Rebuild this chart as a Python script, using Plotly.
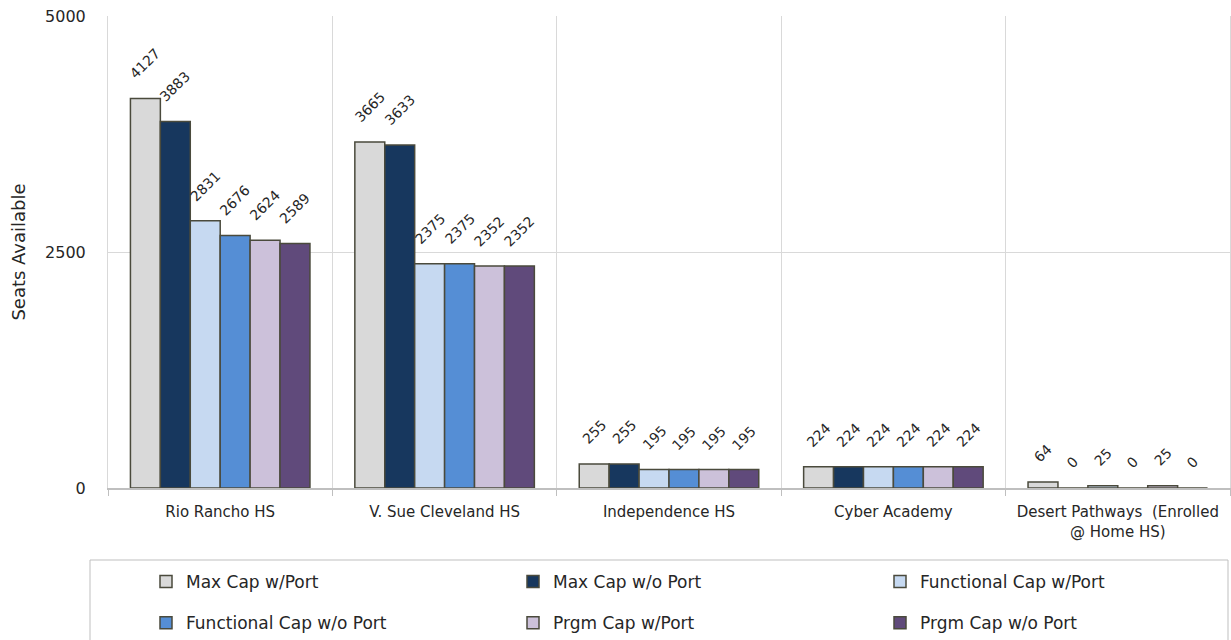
import plotly.graph_objects as go

# Schools (x categories) and seat counts per capacity measure
schools = [
    "Rio Rancho HS",
    "V. Sue Cleveland HS",
    "Independence HS",
    "Cyber Academy",
    "Desert Pathways  (Enrolled<br>@ Home HS)",
]
series_names = [
    "Max Cap w/Port",
    "Max Cap w/o Port",
    "Functional Cap w/Port",
    "Functional Cap w/o Port",
    "Prgm Cap w/Port",
    "Prgm Cap w/o Port",
]
max_cap_port = [4127, 3665, 255, 224, 64]
max_cap_no_port = [3883, 3633, 255, 224, 0]
func_cap_port = [2831, 2375, 195, 224, 25]
func_cap_no_port = [2676, 2375, 195, 224, 0]
prgm_cap_port = [2624, 2352, 195, 224, 25]
prgm_cap_no_port = [2589, 2352, 195, 224, 0]
y_ticks = [0, 2500, 5000]

values = [max_cap_port, max_cap_no_port, func_cap_port,
          func_cap_no_port, prgm_cap_port, prgm_cap_no_port]
colors = ["#d9d9d9", "#17375e", "#c6d9f1", "#558ed5", "#ccc1da", "#604a7b"]

FONT = "DejaVu Sans"
TEXT = "#262626"
W, H = 1231, 640
ML, MR, MT, MB = 108, 1, 16, 152
PW = W - ML - MR
PH = H - MT - MB

BARGAP = 0.2
n_series = len(values)
bar_w = (1 - BARGAP) / n_series

# legend laid out as three columns of two entries
legend_ids = ["legend", "legend2", "legend3"]

fig = go.Figure()
annotations = []
for i, (name, vals, col) in enumerate(zip(series_names, values, colors)):
    fig.add_trace(go.Bar(
        name=name, x=schools, y=vals,
        marker=dict(color=col, line=dict(color="#4a4a3c", width=1.5)),
        legend=legend_ids[i % 3], legendgroup=f"g{i}",
        cliponaxis=False,
    ))
    # rotated value labels above each bar
    for j, v in enumerate(vals):
        annotations.append(dict(
            x=j + (i - (n_series - 1) / 2) * bar_w, y=v,
            xref="x", yref="y", text=str(v), showarrow=False,
            textangle=-45, xanchor="center", yanchor="bottom", yshift=14,
            font=dict(family=FONT, size=14, color=TEXT),
        ))


def px_x(px):
    return (px - ML) / PW


def px_y(py):
    return (H - MB - py) / PH


def column_legend(left_px):
    return dict(
        orientation="v", x=px_x(left_px), xanchor="left",
        y=px_y(564), yanchor="top", tracegroupgap=16,
        font=dict(family=FONT, size=17, color=TEXT), bgcolor="rgba(0,0,0,0)",
        itemclick=False, itemdoubleclick=False,
    )


fig.update_layout(
    width=W, height=H,
    margin=dict(l=ML, r=MR, t=MT, b=MB, pad=0, autoexpand=False),
    paper_bgcolor="white", plot_bgcolor="white",
    barmode="group", bargap=BARGAP, bargroupgap=0,
    font=dict(family=FONT, color=TEXT),
    annotations=annotations,
    xaxis=dict(
        type="category", range=[-0.5, len(schools) - 0.5],
        tickson="boundaries", showgrid=True, gridcolor="#d9d9d9", gridwidth=1,
        showline=True, linecolor="#bfbfbf", linewidth=2,
        ticks="outside", ticklen=6, tickcolor="#bfbfbf", tickwidth=1,
        tickfont=dict(family=FONT, size=15, color=TEXT),
        ticklabelstandoff=9,
    ),
    yaxis=dict(
        range=[0, 5000], tickvals=y_ticks, ticktext=[str(t) for t in y_ticks],
        showgrid=True, gridcolor="#d9d9d9", gridwidth=1, zeroline=False,
        showline=True, linecolor="#d9d9d9", linewidth=1, mirror=True,
        ticks="", tickfont=dict(family=FONT, size=16, color=TEXT),
        ticklabelstandoff=18,
        title=dict(text="Seats Available", standoff=14,
                   font=dict(family=FONT, size=18, color=TEXT)),
    ),
    legend=column_legend(146),
    legend2=column_legend(513),
    legend3=column_legend(880),
    shapes=[dict(
        type="rect", xref="paper", yref="paper",
        x0=px_x(90), x1=px_x(1228), y0=px_y(560), y1=px_y(660),
        line=dict(color="#bfbfbf", width=1), fillcolor="rgba(0,0,0,0)",
        layer="below",
    )],
)

fig.write_html("out.html")
